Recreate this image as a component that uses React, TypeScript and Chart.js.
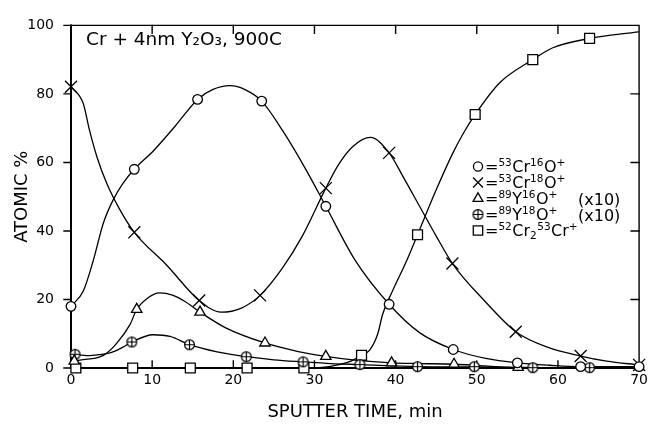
import React, { useEffect, useRef } from "react";
import { Chart, registerables } from "chart.js";
import { drawPoint } from "chart.js/helpers";

Chart.register(...registerables);

// ---------- Data ----------
const titleText = "Cr + 4nm Y₂O₃, 900C";
const xTitle = "SPUTTER TIME, min";
const yTitle = "ATOMIC %";

// 53Cr16O+ (circles)
const cr16oMarkX = [0, 7.8, 15.6, 23.5, 31.4, 39.2, 47.1, 55.0, 62.8, 70];
const cr16oMarkY = [18, 58, 78.4, 77.9, 47.2, 18.6, 5.4, 1.5, 0.4, 0.4];
const cr16oLineX = [0, 1.5, 2.7, 4, 5.2, 6.4, 7.8, 10.2, 12.8, 15.6, 17.5, 19.6, 21.5, 23.5, 26.1, 29, 31.4, 35, 39.2, 42.9, 47.1, 51.1, 55, 59, 62.8, 70];
const cr16oLineY = [18, 22.4, 31, 42.4, 49.1, 53.9, 58, 63.5, 70.5, 78.4, 81.3, 82.4, 81.2, 77.9, 69.2, 57.7, 47.2, 31.5, 18.6, 10.4, 5.4, 2.8, 1.5, 0.8, 0.4, 0.4];

// 53Cr18O+ (crosses)
const cr18oMarkX = [0, 7.8, 15.8, 23.3, 31.4, 39.2, 47.0, 54.8, 62.8, 70];
const cr18oMarkY = [82.1, 39.6, 19.7, 21.2, 52.5, 62.8, 30.5, 10.6, 3.5, 0.9];
const cr18oLineX = [0, 1.5, 2.3, 3.2, 4.4, 6, 7.8, 11.8, 15.8, 18.5, 21, 23.3, 26, 28.5, 31.4, 33, 34.7, 36.9, 39.2, 41, 43, 45, 47, 51, 54.8, 58.8, 62.8, 66, 70];
const cr18oLineY = [82.1, 77.3, 69.2, 61.6, 53.9, 46.3, 39.6, 30, 19.7, 16.3, 17.5, 21.2, 29, 38.5, 52.5, 59.5, 64.6, 67.3, 62.8, 55.5, 47, 38.5, 30.5, 19.5, 10.6, 6, 3.5, 2, 0.9];

// 89Y16O+ (x10) (triangles)
const y16oMarkX = [0.4, 8.1, 15.9, 23.9, 31.4, 39.5, 47.2, 55.1];
const y16oMarkY = [2, 17.1, 16.3, 7.3, 3.4, 1.5, 1.1, 0.2];
const y16oLineX = [0.4, 1.1, 4, 5.6, 7.3, 8.1, 9.5, 10.9, 12.5, 14, 15.9, 19, 23.9, 28, 31.4, 35, 39.5, 43, 47.2, 51, 55.1, 62.8, 70];
const y16oLineY = [2, 2.3, 3.7, 7.1, 12.8, 17.1, 20.5, 21.9, 21.3, 19.5, 16.3, 11.8, 7.3, 4.8, 3.4, 2.3, 1.5, 1.3, 1.1, 0.6, 0.2, 0.1, 0];

// 89Y18O+ (x10) (circle-plus)
const y18oMarkX = [0.5, 7.5, 14.6, 21.6, 28.6, 35.6, 42.7, 49.7, 56.9, 63.9];
const y18oMarkY = [4.0, 7.6, 6.8, 3.3, 1.8, 1.0, 0.4, 0.4, 0.1, 0.1];
const y18oLineX = [0.5, 2, 3.5, 4.8, 6.4, 7.5, 10.1, 12.2, 14.6, 18, 21.6, 25, 28.6, 32, 35.6, 42.7, 49.7, 56.9, 63.9, 70];
const y18oLineY = [4.0, 3.6, 3.9, 4.4, 6.1, 7.6, 9.7, 9.2, 6.8, 4.7, 3.3, 2.4, 1.8, 1.3, 1.0, 0.4, 0.3, 0.1, 0.05, 0];

// 52Cr2 53Cr+ (squares)
const cr3MarkX = [0.6, 7.6, 14.7, 21.7, 28.7, 35.8, 42.7, 49.8, 56.9, 63.9];
const cr3MarkY = [0, 0, 0, 0, 0, 3.7, 38.9, 74.0, 90.0, 96.2];
const cr3LineX = [0.6, 7.6, 14.7, 21.7, 28.7, 32, 34.5, 35.8, 36.8, 37.8, 38.4, 39.6, 41.3, 42.7, 45, 47, 48.3, 49.8, 52.8, 56.9, 59.3, 63.9, 67, 70];
const cr3LineY = [0, 0, 0, 0, 0, 0.5, 2, 3.7, 5.2, 10, 15.7, 22.4, 31, 38.9, 52, 62.5, 68.3, 74, 83.2, 90, 93.4, 96.2, 97.3, 98.1];

// Legend
const legendSymbols = ["circle", "crossRot", "triangle", "circlePlus", "rect"];
const legendLabels = ["=^53Cr^16O^+", "=^53Cr^18O^+", "=^89Y^16O^+", "=^89Y^18O^+", "=^52Cr_2^53Cr^+"];
const legendNotes = ["", "", "(x10)", "(x10)", ""];

// Axis ticks
const xMin = 0, xMax = 70, xStep = 10;
const yMin = 0, yMax = 100, yStep = 20;

const FONT = "'DejaVu Sans', sans-serif";

function pts(xs: number[], ys: number[]) {
  return xs.map((x, i) => ({ x, y: ys[i] }));
}

function makeCirclePlus(): HTMLCanvasElement {
  const c = document.createElement("canvas");
  const s = 13;
  c.width = s;
  c.height = s;
  const g = c.getContext("2d")!;
  g.fillStyle = "#fff";
  g.strokeStyle = "#000";
  g.lineWidth = 1.2;
  g.beginPath();
  g.arc(6.5, 6.5, 4.9, 0, Math.PI * 2);
  g.fill();
  g.stroke();
  g.beginPath();
  g.moveTo(1.6, 6.5);
  g.lineTo(11.4, 6.5);
  g.moveTo(6.5, 1.6);
  g.lineTo(6.5, 11.4);
  g.stroke();
  return c;
}

const styleRadius: Record<string, number> = {
  circle: 4.8,
  crossRot: 8.5,
  triangle: 6,
  rect: 7,
  circlePlus: 7,
};

function drawRich(ctx: CanvasRenderingContext2D, markup: string, x: number, y: number) {
  const tokens = markup.match(/(\^[0-9+]+|_[0-9]+|[^\^_]+)/g) || [];
  let cx = x;
  for (const t of tokens) {
    let text = t;
    let dy = 0;
    let size = 16;
    if (t.startsWith("^")) {
      text = t.slice(1);
      dy = -6;
      size = 10.5;
    } else if (t.startsWith("_")) {
      text = t.slice(1);
      dy = 3;
      size = 10.5;
    }
    ctx.font = `${size}px ${FONT}`;
    ctx.fillText(text, cx, y + dy);
    cx += ctx.measureText(text).width + (size < 16 ? 0.5 : 0);
  }
}

export default function App() {
  const ref = useRef<HTMLCanvasElement | null>(null);

  useEffect(() => {
    const canvas = ref.current;
    if (!canvas) return;
    const circlePlus = makeCirclePlus();

    const lineDs = (xs: number[], ys: number[]) => ({
      data: pts(xs, ys),
      borderColor: "#000",
      borderWidth: 1.3,
      pointRadius: 0,
      fill: false,
      cubicInterpolationMode: "monotone" as const,
      clip: false as const,
      order: 2,
    });
    const markDs = (xs: number[], ys: number[], style: any, radius: number) => ({
      data: pts(xs, ys),
      showLine: false,
      pointStyle: style,
      pointRadius: radius,
      pointHoverRadius: radius,
      pointBorderColor: "#000",
      pointBackgroundColor: "#fff",
      pointBorderWidth: 1.3,
      clip: false as const,
      order: 1,
    });

    const framePlugin = {
      id: "frame",
      beforeDatasetsDraw(chart: any) {
        const { ctx, chartArea } = chart;
        const { left, right, top, bottom } = chartArea;
        const xs = chart.scales.x;
        const ys = chart.scales.y;
        ctx.save();
        ctx.strokeStyle = "#000";
        ctx.lineCap = "square";
        ctx.lineWidth = 1.4;
        ctx.beginPath();
        ctx.moveTo(left, top);
        ctx.lineTo(right, top);
        ctx.lineTo(right, bottom);
        ctx.stroke();
        ctx.lineWidth = 2;
        ctx.beginPath();
        ctx.moveTo(left, top);
        ctx.lineTo(left, bottom);
        ctx.lineTo(right, bottom);
        ctx.stroke();
        ctx.lineWidth = 1.4;
        ctx.beginPath();
        for (let v = yMin; v <= yMax; v += yStep) {
          const py = ys.getPixelForValue(v);
          ctx.moveTo(left - 7, py);
          ctx.lineTo(left, py);
          if (v > yMin && v < yMax) {
            ctx.moveTo(right, py);
            ctx.lineTo(right - 8, py);
          }
        }
        for (let v = xMin + xStep; v < xMax; v += xStep) {
          const px = xs.getPixelForValue(v);
          ctx.moveTo(px, bottom);
          ctx.lineTo(px, bottom - 7);
          ctx.moveTo(px, top);
          ctx.lineTo(px, top + 8);
        }
        ctx.stroke();
        ctx.restore();
      },
      afterDraw(chart: any) {
        const { ctx } = chart;
        ctx.save();
        ctx.fillStyle = "#000";
        ctx.textBaseline = "alphabetic";
        ctx.textAlign = "left";
        ctx.font = `18.5px ${FONT}`;
        ctx.fillText(titleText, 86, 45);
        const baseY = 172;
        const rowH = 16;
        legendSymbols.forEach((s, i) => {
          const y = baseY + i * rowH;
          const cy = y - 5.5;
          ctx.strokeStyle = "#000";
          ctx.fillStyle = "#fff";
          ctx.lineWidth = 1.3;
          if (s === "circlePlus") {
            ctx.drawImage(circlePlus, 478 - 6.5, cy - 6.5);
          } else {
            drawPoint(ctx, { pointStyle: s as any, radius: s === "crossRot" ? 7 : styleRadius[s] * 0.95, rotation: 0, borderWidth: 1.3 }, 478, cy);
          }
          ctx.fillStyle = "#000";
          drawRich(ctx, legendLabels[i], 485, y);
          if (legendNotes[i]) {
            ctx.font = `16px ${FONT}`;
            ctx.fillText(legendNotes[i], 578, y + 1);
          }
        });
        ctx.restore();
      },
    };

    const chart = new Chart(canvas, {
      type: "line",
      data: {
        datasets: [
          markDs(cr16oMarkX, cr16oMarkY, "circle", styleRadius.circle),
          markDs(cr18oMarkX, cr18oMarkY, "crossRot", styleRadius.crossRot),
          markDs(y16oMarkX, y16oMarkY, "triangle", styleRadius.triangle),
          markDs(y18oMarkX, y18oMarkY, circlePlus, styleRadius.circlePlus),
          markDs(cr3MarkX, cr3MarkY, "rect", styleRadius.rect),
          lineDs(cr16oLineX, cr16oLineY),
          lineDs(cr18oLineX, cr18oLineY),
          lineDs(y16oLineX, y16oLineY),
          lineDs(y18oLineX, y18oLineY),
          lineDs(cr3LineX, cr3LineY),
        ] as any,
      },
      options: {
        animation: false,
        responsive: true,
        maintainAspectRatio: false,
        layout: { padding: { top: 19, right: 12, left: 0, bottom: 0 } },
        plugins: {
          legend: { display: false },
          tooltip: { enabled: false },
          title: { display: false },
        },
        scales: {
          x: {
            type: "linear",
            min: xMin,
            max: xMax,
            grid: { display: false, drawTicks: false },
            border: { display: false },
            ticks: {
              stepSize: xStep,
              color: "#000",
              padding: 4,
              maxRotation: 0,
              font: { family: FONT, size: 14 },
            },
            title: {
              display: true,
              text: xTitle,
              color: "#000",
              font: { family: FONT, size: 18 },
              padding: { top: 0, bottom: 3 },
            },
            afterFit(s: any) {
              s.height = 58;
            },
          },
          y: {
            type: "linear",
            min: yMin,
            max: yMax,
            grid: { display: false, drawTicks: false },
            border: { display: false },
            ticks: {
              stepSize: yStep,
              color: "#000",
              padding: 17,
              font: { family: FONT, size: 14 },
            },
            title: {
              display: true,
              text: yTitle,
              color: "#000",
              font: { family: FONT, size: 18 },
              padding: { top: 12, bottom: 0 },
            },
            afterFit(s: any) {
              s.width = 71;
            },
          },
        },
      },
      plugins: [framePlugin],
    });
    return () => chart.destroy();
  }, []);

  return (
    <div style={{ position: "fixed", left: 0, top: 0, width: 652, height: 426, background: "#fff" }}>
      <canvas ref={ref} />
    </div>
  );
}
